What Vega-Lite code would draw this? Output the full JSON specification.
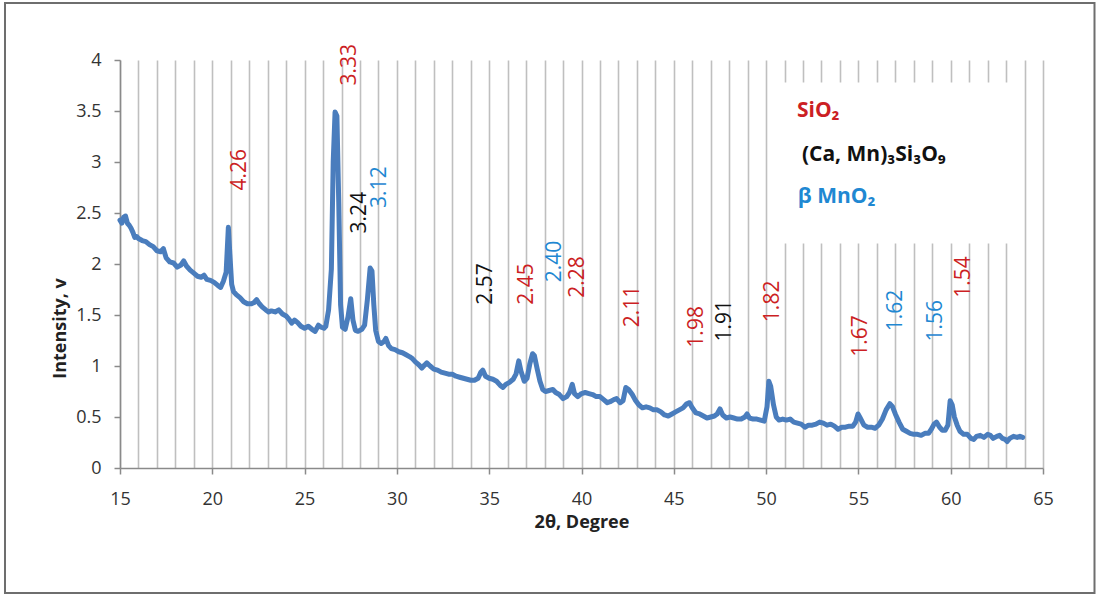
{
  "$schema": "https://vega.github.io/schema/vega-lite/v6.json",
  "width": 923,
  "height": 408,
  "autosize": {"type": "none"},
  "padding": {"left": 120, "top": 60, "right": 54, "bottom": 127},
  "background": "white",
  "config": {
    "view": {"stroke": null},
    "font": "Open Sans",
    "axis": {"labelFont": "Open Sans", "titleFont": "Open Sans", "labelFontSize": 18, "labelColor": "#333333", "titleFontSize": 18, "titleFontWeight": "bold", "titleColor": "#222222", "domainColor": "#8a8a8a", "domainWidth": 1.5, "tickColor": "#8a8a8a", "tickWidth": 1.5}
  },
  "resolve": {"axis": {"x": "independent", "y": "independent"}},
  "datasets": {
    "curve": [
      {"x":15.0,"y":2.43},{"x":15.1,"y":2.40},{"x":15.2,"y":2.46},{"x":15.3,"y":2.47},{"x":15.4,"y":2.40},{"x":15.5,"y":2.38},{"x":15.6,"y":2.35},{"x":15.7,"y":2.31},{"x":15.8,"y":2.26},{"x":15.9,"y":2.27},
      {"x":16.0,"y":2.25},{"x":16.2,"y":2.23},{"x":16.4,"y":2.22},{"x":16.6,"y":2.19},{"x":16.8,"y":2.17},{"x":17.0,"y":2.13},{"x":17.2,"y":2.12},{"x":17.35,"y":2.15},{"x":17.5,"y":2.06},{"x":17.7,"y":2.02},
      {"x":17.9,"y":2.01},{"x":18.1,"y":1.97},{"x":18.3,"y":1.99},{"x":18.45,"y":2.03},{"x":18.6,"y":1.98},{"x":18.8,"y":1.94},{"x":19.0,"y":1.91},{"x":19.2,"y":1.88},{"x":19.4,"y":1.87},{"x":19.55,"y":1.89},
      {"x":19.7,"y":1.85},{"x":19.9,"y":1.84},{"x":20.1,"y":1.82},{"x":20.3,"y":1.79},{"x":20.45,"y":1.77},{"x":20.6,"y":1.83},{"x":20.75,"y":1.92},{"x":20.87,"y":2.36},{"x":20.95,"y":2.10},{"x":21.05,"y":1.80},
      {"x":21.15,"y":1.73},{"x":21.3,"y":1.70},{"x":21.5,"y":1.67},{"x":21.7,"y":1.63},{"x":21.9,"y":1.61},{"x":22.1,"y":1.61},{"x":22.25,"y":1.62},{"x":22.4,"y":1.65},{"x":22.55,"y":1.61},{"x":22.7,"y":1.58},
      {"x":22.9,"y":1.55},{"x":23.05,"y":1.53},{"x":23.2,"y":1.54},{"x":23.4,"y":1.53},{"x":23.6,"y":1.55},{"x":23.8,"y":1.51},{"x":24.0,"y":1.49},{"x":24.15,"y":1.46},{"x":24.3,"y":1.42},{"x":24.45,"y":1.45},
      {"x":24.6,"y":1.43},{"x":24.8,"y":1.39},{"x":25.0,"y":1.37},{"x":25.2,"y":1.39},{"x":25.4,"y":1.36},{"x":25.57,"y":1.34},{"x":25.75,"y":1.40},{"x":25.9,"y":1.38},{"x":26.05,"y":1.37},{"x":26.15,"y":1.39},
      {"x":26.3,"y":1.55},{"x":26.45,"y":1.95},{"x":26.55,"y":3.0},{"x":26.65,"y":3.49},{"x":26.75,"y":3.45},{"x":26.85,"y":2.6},{"x":26.95,"y":1.6},{"x":27.05,"y":1.38},{"x":27.2,"y":1.36},{"x":27.35,"y":1.48},
      {"x":27.5,"y":1.66},{"x":27.62,"y":1.45},{"x":27.75,"y":1.35},{"x":27.9,"y":1.34},{"x":28.1,"y":1.36},{"x":28.25,"y":1.40},{"x":28.4,"y":1.65},{"x":28.55,"y":1.96},{"x":28.65,"y":1.93},{"x":28.75,"y":1.6},
      {"x":28.85,"y":1.35},{"x":29.0,"y":1.24},{"x":29.15,"y":1.22},{"x":29.3,"y":1.24},{"x":29.4,"y":1.27},{"x":29.55,"y":1.20},{"x":29.7,"y":1.17},{"x":29.9,"y":1.16},{"x":30.1,"y":1.14},{"x":30.3,"y":1.13},
      {"x":30.5,"y":1.11},{"x":30.7,"y":1.09},{"x":30.85,"y":1.07},{"x":31.0,"y":1.04},{"x":31.2,"y":1.01},{"x":31.35,"y":0.98},{"x":31.5,"y":1.01},{"x":31.62,"y":1.03},{"x":31.8,"y":1.00},{"x":32.0,"y":0.97},
      {"x":32.2,"y":0.96},{"x":32.4,"y":0.94},{"x":32.6,"y":0.93},{"x":32.8,"y":0.92},{"x":33.0,"y":0.92},{"x":33.2,"y":0.90},{"x":33.4,"y":0.89},{"x":33.6,"y":0.88},{"x":33.8,"y":0.87},{"x":34.0,"y":0.86},
      {"x":34.2,"y":0.86},{"x":34.4,"y":0.88},{"x":34.55,"y":0.94},{"x":34.65,"y":0.96},{"x":34.8,"y":0.90},{"x":35.0,"y":0.88},{"x":35.2,"y":0.87},{"x":35.4,"y":0.85},{"x":35.6,"y":0.81},{"x":35.75,"y":0.79},
      {"x":35.9,"y":0.82},{"x":36.1,"y":0.84},{"x":36.3,"y":0.87},{"x":36.45,"y":0.92},{"x":36.6,"y":1.05},{"x":36.72,"y":0.95},{"x":36.9,"y":0.85},{"x":37.05,"y":0.88},{"x":37.2,"y":1.02},{"x":37.35,"y":1.12},
      {"x":37.45,"y":1.10},{"x":37.6,"y":0.97},{"x":37.75,"y":0.85},{"x":37.9,"y":0.77},{"x":38.05,"y":0.75},{"x":38.25,"y":0.76},{"x":38.45,"y":0.77},{"x":38.6,"y":0.74},{"x":38.8,"y":0.72},{"x":39.0,"y":0.68},
      {"x":39.2,"y":0.70},{"x":39.35,"y":0.74},{"x":39.5,"y":0.82},{"x":39.62,"y":0.73},{"x":39.8,"y":0.70},{"x":40.0,"y":0.73},{"x":40.2,"y":0.74},{"x":40.4,"y":0.73},{"x":40.6,"y":0.72},{"x":40.8,"y":0.70},
      {"x":41.0,"y":0.70},{"x":41.2,"y":0.67},{"x":41.4,"y":0.64},{"x":41.55,"y":0.65},{"x":41.75,"y":0.67},{"x":41.9,"y":0.68},{"x":42.1,"y":0.64},{"x":42.25,"y":0.66},{"x":42.4,"y":0.79},{"x":42.55,"y":0.77},
      {"x":42.75,"y":0.72},{"x":42.9,"y":0.67},{"x":43.1,"y":0.62},{"x":43.3,"y":0.59},{"x":43.5,"y":0.60},{"x":43.7,"y":0.59},{"x":43.9,"y":0.57},{"x":44.1,"y":0.57},{"x":44.3,"y":0.55},{"x":44.5,"y":0.52},
      {"x":44.7,"y":0.51},{"x":44.9,"y":0.53},{"x":45.1,"y":0.55},{"x":45.3,"y":0.57},{"x":45.5,"y":0.59},{"x":45.7,"y":0.63},{"x":45.85,"y":0.64},{"x":46.0,"y":0.59},{"x":46.2,"y":0.54},{"x":46.4,"y":0.53},
      {"x":46.6,"y":0.51},{"x":46.8,"y":0.49},{"x":47.0,"y":0.50},{"x":47.2,"y":0.51},{"x":47.35,"y":0.53},{"x":47.5,"y":0.58},{"x":47.65,"y":0.52},{"x":47.85,"y":0.49},{"x":48.05,"y":0.50},{"x":48.25,"y":0.49},
      {"x":48.45,"y":0.48},{"x":48.65,"y":0.48},{"x":48.85,"y":0.50},{"x":48.97,"y":0.53},{"x":49.1,"y":0.49},{"x":49.3,"y":0.48},{"x":49.5,"y":0.48},{"x":49.7,"y":0.47},{"x":49.9,"y":0.46},{"x":50.05,"y":0.60},
      {"x":50.15,"y":0.85},{"x":50.25,"y":0.80},{"x":50.4,"y":0.62},{"x":50.55,"y":0.50},{"x":50.7,"y":0.47},{"x":50.9,"y":0.48},{"x":51.1,"y":0.47},{"x":51.3,"y":0.48},{"x":51.5,"y":0.45},{"x":51.7,"y":0.44},
      {"x":51.9,"y":0.43},{"x":52.1,"y":0.40},{"x":52.3,"y":0.42},{"x":52.5,"y":0.42},{"x":52.7,"y":0.43},{"x":52.9,"y":0.45},{"x":53.1,"y":0.44},{"x":53.3,"y":0.42},{"x":53.5,"y":0.43},{"x":53.7,"y":0.41},
      {"x":53.9,"y":0.38},{"x":54.1,"y":0.40},{"x":54.3,"y":0.40},{"x":54.5,"y":0.41},{"x":54.7,"y":0.41},{"x":54.85,"y":0.45},{"x":54.98,"y":0.53},{"x":55.1,"y":0.49},{"x":55.3,"y":0.42},{"x":55.5,"y":0.40},
      {"x":55.7,"y":0.40},{"x":55.9,"y":0.39},{"x":56.1,"y":0.42},{"x":56.3,"y":0.48},{"x":56.5,"y":0.57},{"x":56.7,"y":0.63},{"x":56.85,"y":0.60},{"x":57.0,"y":0.53},{"x":57.2,"y":0.45},{"x":57.4,"y":0.38},
      {"x":57.6,"y":0.36},{"x":57.8,"y":0.34},{"x":58.0,"y":0.33},{"x":58.2,"y":0.33},{"x":58.4,"y":0.32},{"x":58.6,"y":0.34},{"x":58.8,"y":0.34},{"x":58.95,"y":0.38},{"x":59.1,"y":0.43},{"x":59.23,"y":0.45},
      {"x":59.4,"y":0.40},{"x":59.55,"y":0.37},{"x":59.7,"y":0.37},{"x":59.85,"y":0.42},{"x":59.97,"y":0.66},{"x":60.08,"y":0.62},{"x":60.2,"y":0.50},{"x":60.35,"y":0.42},{"x":60.5,"y":0.36},{"x":60.7,"y":0.33},
      {"x":60.9,"y":0.33},{"x":61.1,"y":0.29},{"x":61.25,"y":0.28},{"x":61.4,"y":0.31},{"x":61.6,"y":0.32},{"x":61.8,"y":0.30},{"x":62.0,"y":0.33},{"x":62.15,"y":0.32},{"x":62.3,"y":0.29},{"x":62.5,"y":0.31},
      {"x":62.65,"y":0.32},{"x":62.8,"y":0.29},{"x":62.95,"y":0.28},{"x":63.06,"y":0.26},{"x":63.2,"y":0.29},{"x":63.4,"y":0.31},{"x":63.6,"y":0.30},{"x":63.75,"y":0.31},{"x":63.9,"y":0.30}
    ],
    "peaks": [
      {"x":21.5,"y":2.72,"label":"4.26","phase":"SiO2"},
      {"x":27.47,"y":3.75,"label":"3.33","phase":"SiO2"},
      {"x":28.0,"y":2.30,"label":"3.24","phase":"CaMn"},
      {"x":29.09,"y":2.55,"label":"3.12","phase":"MnO2"},
      {"x":34.84,"y":1.60,"label":"2.57","phase":"CaMn"},
      {"x":37.04,"y":1.60,"label":"2.45","phase":"SiO2"},
      {"x":38.58,"y":1.82,"label":"2.40","phase":"MnO2"},
      {"x":39.82,"y":1.67,"label":"2.28","phase":"SiO2"},
      {"x":42.8,"y":1.38,"label":"2.11","phase":"SiO2"},
      {"x":46.27,"y":1.18,"label":"1.98","phase":"SiO2"},
      {"x":47.79,"y":1.24,"label":"1.91","phase":"CaMn"},
      {"x":50.39,"y":1.43,"label":"1.82","phase":"SiO2"},
      {"x":55.16,"y":1.09,"label":"1.67","phase":"SiO2"},
      {"x":57.04,"y":1.34,"label":"1.62","phase":"MnO2"},
      {"x":59.2,"y":1.24,"label":"1.56","phase":"MnO2"},
      {"x":60.7,"y":1.67,"label":"1.54","phase":"SiO2"}
    ],
    "key": [
      {"x":51.67,"y":3.50,"label":"SiO₂","phase":"SiO2"},
      {"x":51.94,"y":3.07,"label":"(Ca, Mn)₃Si₃O₉","phase":"CaMn"},
      {"x":51.72,"y":2.66,"label":"β MnO₂","phase":"MnO2"}
    ]
  },
  "layer": [
    {
      "data": {"name": "curve"},
      "mark": {"type": "line", "color": "#4a7dbd", "strokeWidth": 5, "strokeJoin": "round", "strokeCap": "round"},
      "encoding": {
        "x": {"field": "x", "type": "quantitative", "scale": {"domain": [15, 65], "nice": false, "zero": false},
          "axis": {"values": [15,16,17,18,19,20,21,22,23,24,25,26,27,28,29,30,31,32,33,34,35,36,37,38,39,40,41,42,43,44,45,46,47,48,49,50,51,52,53,54,55,56,57,58,59,60,61,62,63,64,65],
            "grid": true, "gridColor": "#bfbfbf", "gridWidth": 1.6,
            "labelExpr": "datum.value % 5 === 0 ? datum.label : ''",
            "labelOverlap": false, "labelFlush": false,
            "tickOpacity": {"condition": {"test": "datum.value % 5 === 0", "value": 1}, "value": 0},
            "tickSize": 6, "labelPadding": 16,
            "title": "2θ, Degree", "titleY": 54, "titleBaseline": "middle"}},
        "y": {"field": "y", "type": "quantitative", "scale": {"domain": [0, 4], "nice": false, "zero": false},
          "axis": {"values": [0,0.5,1,1.5,2,2.5,3,3.5,4], "format": "~g", "grid": false, "tickSize": 6, "labelPadding": 13,
            "title": "Intensity, v", "titleAngle": 270, "titleX": -60, "titleY": 268, "titleBaseline": "middle", "titleAlign": "center"}}
      }
    },
    {
      "data": {"values": [{}]},
      "mark": {"type": "rect", "fill": null, "stroke": "#6e6e6e", "strokeWidth": 2},
      "encoding": {
        "x": {"datum": 8.77, "type": "quantitative", "axis": null},
        "x2": {"datum": 67.79},
        "y": {"datum": 4.56, "type": "quantitative", "axis": null},
        "y2": {"datum": -1.225}
      }
    },
    {
      "data": {"values": [{}]},
      "mark": {"type": "rect", "fill": "white", "stroke": null},
      "encoding": {
        "x": {"datum": 50.9, "type": "quantitative", "axis": null},
        "x2": {"datum": 63.15},
        "y": {"datum": 2.2, "type": "quantitative", "axis": null},
        "y2": {"datum": 3.78}
      }
    },
    {
      "data": {"name": "peaks"},
      "mark": {"type": "text", "angle": 270, "align": "left", "baseline": "middle", "fontSize": 21, "font": "Open Sans"},
      "encoding": {
        "x": {"field": "x", "type": "quantitative", "axis": null},
        "y": {"field": "y", "type": "quantitative", "axis": null},
        "text": {"field": "label"},
        "color": {"field": "phase", "type": "nominal", "scale": {"domain": ["SiO2", "CaMn", "MnO2"], "range": ["#cc1f24", "#111111", "#1f88d2"]}, "legend": null}
      }
    },
    {
      "data": {"name": "key"},
      "mark": {"type": "text", "align": "left", "baseline": "middle", "fontSize": 21, "fontWeight": "bold", "font": "Open Sans, DejaVu Sans"},
      "encoding": {
        "x": {"field": "x", "type": "quantitative", "axis": null},
        "y": {"field": "y", "type": "quantitative", "axis": null},
        "text": {"field": "label"},
        "color": {"field": "phase", "type": "nominal", "legend": null}
      }
    }
  ]
}
